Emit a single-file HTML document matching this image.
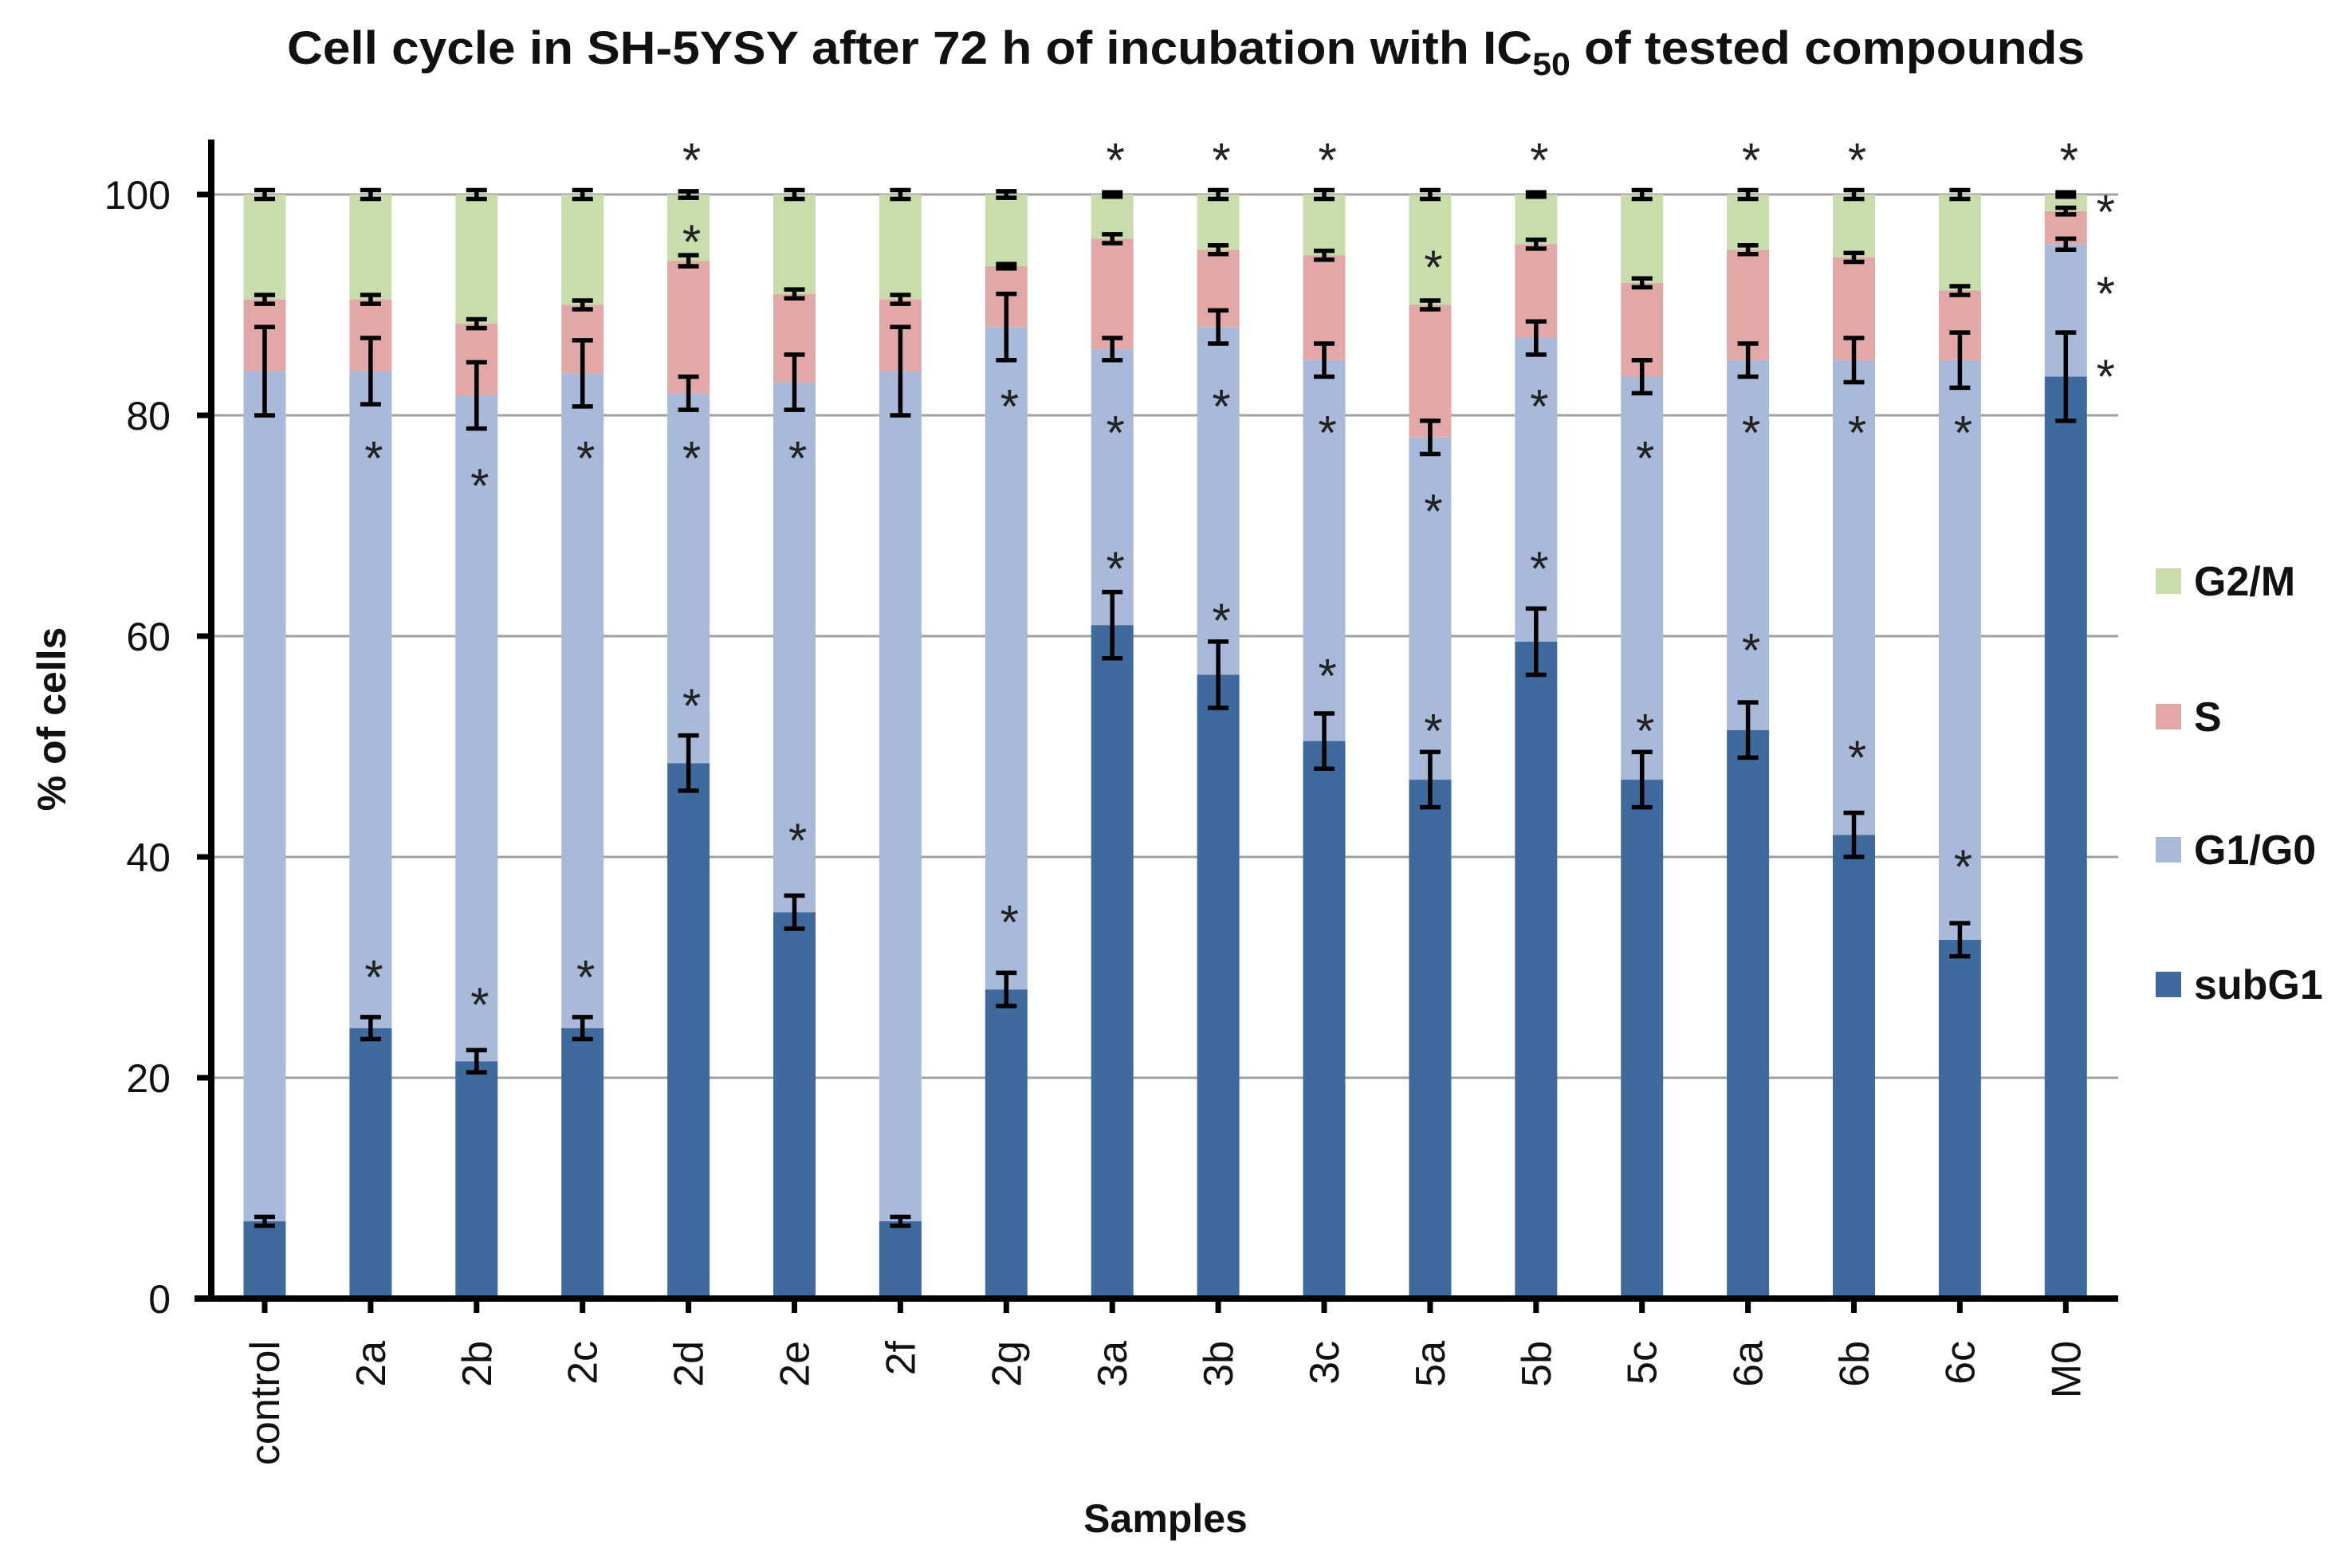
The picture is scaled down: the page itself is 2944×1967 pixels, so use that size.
<!DOCTYPE html>
<html><head><meta charset="utf-8"><style>
html,body{margin:0;padding:0;background:#fff;}
svg{display:block;font-family:"Liberation Sans",sans-serif;}
</style></head><body>
<svg id="chart" width="2944" height="1967" viewBox="0 0 2944 1967" xmlns="http://www.w3.org/2000/svg">
<text x="360" y="80" font-size="58" font-weight="bold" textLength="2255" lengthAdjust="spacingAndGlyphs" fill="#111">Cell cycle in SH-5YSY after 72 h of incubation with  IC<tspan font-size="40" dy="14">50</tspan><tspan dy="-14"> of tested compounds</tspan></text>
<text x="0" y="0" transform="translate(82,902) rotate(-90)" font-size="50" font-weight="bold" text-anchor="middle" fill="#111">% of cells</text>
<text x="1462" y="1922" font-size="50" font-weight="bold" text-anchor="middle" fill="#111">Samples</text>
<g id="grid"></g><g id="bars"></g><g id="axes"></g>
<g id="legend"></g>
</svg>
<script>
const categories=["control","2a","2b","2c","2d","2e","2f","2g","3a","3b","3c","5a","5b","5c","6a","6b","6c","M0"];
const subG1=[7,24.5,21.5,24.5,48.5,35,7,28,61,56.5,50.5,47,59.5,47,51.5,42,32.5,83.5];
const subG1Err=[0.4,1,1,1,2.5,1.5,0.4,1.5,3,3,2.5,2.5,3,2.5,2.5,2,1.5,4];
const g1Top=[84,84,81.8,83.8,82,83,84,88,86,88,85,78,87,83.5,85,85,85,95.5];
const g1Err=[4,3,3,3,1.5,2.5,4,3,1,1.5,1.5,1.5,1.5,1.5,1.5,2,2.5,0.5];
const sTop=[90.5,90.5,88.3,90,94,91,90.5,93.5,96,95,94.5,90,95.5,92,95,94.3,91.3,98.5];
const sErr=[0.4,0.4,0.4,0.4,0.5,0.4,0.4,0.2,0.4,0.4,0.4,0.4,0.4,0.4,0.4,0.4,0.4,0.3];
const g2Err=[0.4,0.4,0.4,0.4,0.3,0.4,0.4,0.3,0.2,0.4,0.4,0.4,0.2,0.4,0.4,0.4,0.4,0.2];
const stars=[[],[77,30],[74.5,27.5],[77,30],[104,96.6,77,54.6],[77,42.4],[],[81.7,35],[104,79.3,67],[104,81.7,62.3],[104,79.3,57.3],[94.3,72.2,52.3],[104,81.7,67],[77,52.3],[104,79.3,59.6],[104,79.3,49.9],[79.3,40],[104]];
const starsRight=[99.3,91.9,84.4];
const yTicks=[0,20,40,60,80,100];
const seriesNames=["G2/M","S","G1/G0","subG1"];
const colors={sub:"#3f6a9d",g1:"#a9b9d9",s:"#e2a8a8",g2:"#c8dcac"};
const NS="http://www.w3.org/2000/svg";
const y0=1629,pxU=13.85,x0=332,step=132.9,bw=53,axisX=265,xRight=2657;
const Y=v=>y0-v*pxU, X=i=>x0+i*step;
function mk(tag,attrs,parent){const e=document.createElementNS(NS,tag);for(const k in attrs)e.setAttribute(k,attrs[k]);parent.appendChild(e);return e;}
const grid=document.getElementById('grid'),bars=document.getElementById('bars'),axes=document.getElementById('axes'),legend=document.getElementById('legend');
yTicks.forEach(t=>{
 if(t>0){const l=mk('line',{x1:axisX,x2:xRight,y1:Y(t),y2:Y(t),stroke:'#a0a0a0','stroke-width':3},grid);
 
 }
 const tk=mk('line',{x1:axisX-18,x2:axisX,y1:Y(t),y2:Y(t),stroke:'#000','stroke-width':7},axes);
 
 
 const tx=mk('text',{x:214,y:Y(t)+18,'font-size':50,'text-anchor':'end',fill:'#111'},axes);tx.textContent=t;
 
 
});
function err(cx,v,e,name){
 const g=mk('g',{stroke:'#000','stroke-width':5.5},bars);
 
 
 mk('line',{x1:cx,x2:cx,y1:Y(v+e),y2:Y(v-e)},g);
 mk('line',{x1:cx-13,x2:cx+13,y1:Y(v+e),y2:Y(v+e)},g);
 mk('line',{x1:cx-13,x2:cx+13,y1:Y(v-e),y2:Y(v-e)},g);
}
function star(x,v,name){const s=mk('text',{x:x,y:Y(v)+33,'font-size':60,'text-anchor':'middle',fill:'#222'},bars);s.textContent='*';
 
 }
categories.forEach((c,i)=>{
 const cx=X(i),l=cx-bw/2;
 const segs=[['sub',0,subG1[i]],['g1',subG1[i],g1Top[i]],['s',g1Top[i],sTop[i]],['g2',sTop[i],100]];
 segs.forEach(([k,a,b])=>{const r=mk('rect',{x:l,y:Y(b),width:bw,height:(b-a)*pxU,fill:colors[k]},bars);
  
  });
 err(cx,subG1[i],subG1Err[i],'error-'+c+'-subg1');
 err(cx,g1Top[i],g1Err[i],'error-'+c+'-g1');
 err(cx,sTop[i],sErr[i],'error-'+c+'-s');
 err(cx,100,g2Err[i],'error-'+c+'-g2m');
 stars[i].forEach((v,j)=>star(cx+4,v,'star-'+c+'-'+j));
 const tk=mk('line',{x1:cx,x2:cx,y1:y0,y2:y0+18,stroke:'#000','stroke-width':7},axes);
 
 
 const tx=mk('text',{x:0,y:0,transform:`translate(${cx+18},1682) rotate(-90)`,'font-size':52,'text-anchor':'end',fill:'#111'},axes);tx.textContent=c;
 
 
});
starsRight.forEach((v,j)=>star(X(categories.length-1)+50,v,'star-M0-right-'+j));
const ya=mk('line',{x1:axisX,x2:axisX,y1:175,y2:y0+4,stroke:'#000','stroke-width':8},axes);


const xa=mk('line',{x1:244,x2:xRight,y1:y0,y2:y0,stroke:'#000','stroke-width':8},axes);


const lc=[colors.g2,colors.s,colors.g1,colors.sub],ly=[729,899,1066,1235];
seriesNames.forEach((n,i)=>{
 const r=mk('rect',{x:2704,y:ly[i]-16,width:32,height:32,fill:lc[i]},legend);
 
 
 const t=mk('text',{x:2752,y:ly[i]+18,'font-size':52,'font-weight':'bold',fill:'#111'},legend);t.textContent=n;
 
 
});
</script>
</body></html>
